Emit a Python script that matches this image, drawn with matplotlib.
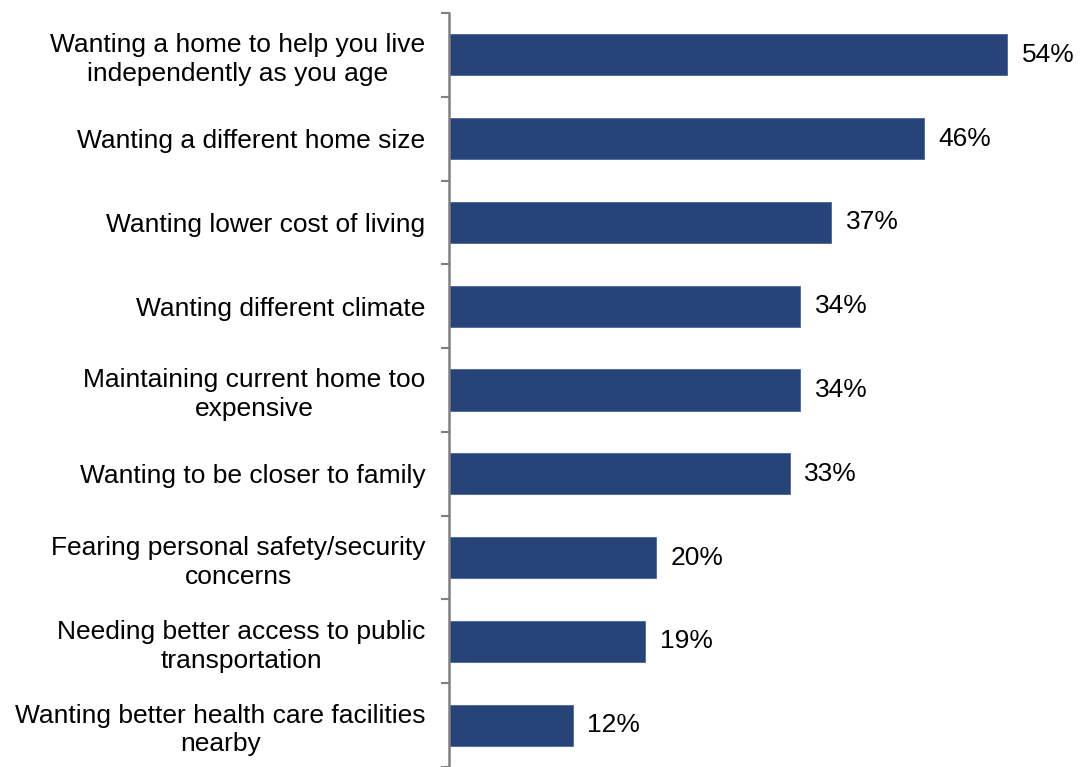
import matplotlib
matplotlib.use('Agg')
import matplotlib.pyplot as plt
from matplotlib.ticker import FixedLocator

plt.rcParams['font.family'] = ['Liberation Sans', 'DejaVu Sans']

# Reasons for moving, top to bottom
reasons = [
    "Wanting a home to help you live\nindependently as you age",
    "Wanting a different home size",
    "Wanting lower cost of living",
    "Wanting different climate",
    "Maintaining current home too\nexpensive",
    "Wanting to be closer to family",
    "Fearing personal safety/security\nconcerns",
    "Needing better access to public\ntransportation",
    "Wanting better health care facilities\nnearby",
]
shares = [54, 46, 37, 34, 34, 33, 20, 19, 12]

bar_color = '#264478'

fig = plt.figure(figsize=(10.81, 7.67), dpi=100)
ax = fig.add_axes([449 / 1081, 0.0, 620 / 1081, 754 / 767])

pos = list(range(len(reasons)))
ax.barh(pos, shares, height=0.49, color=bar_color, edgecolor='#4a64a0', linewidth=0.6)

for y, v in zip(pos, shares):
    ax.text(v + 1.4, y, f"{v}%", va='center', ha='left', fontsize=19, color='black')

ax.set_xlim(0, 60)
ax.set_ylim(len(reasons) - 0.5, -0.5)
ax.set_yticks(pos)
ax.set_yticklabels(reasons, fontsize=19, linespacing=1.25, multialignment='center')
ax.tick_params(axis='y', which='major', length=0, pad=17)
ax.yaxis.set_minor_locator(FixedLocator([i - 0.5 for i in range(len(reasons) + 1)]))
ax.tick_params(axis='y', which='minor', length=6, width=1.5, color='#808080', direction='out')
ax.set_xticks([])

for side in ['top', 'right', 'bottom']:
    ax.spines[side].set_visible(False)
ax.spines['left'].set_color('#808080')
ax.spines['left'].set_linewidth(1.8)

fig.savefig('out.png', dpi=100)
